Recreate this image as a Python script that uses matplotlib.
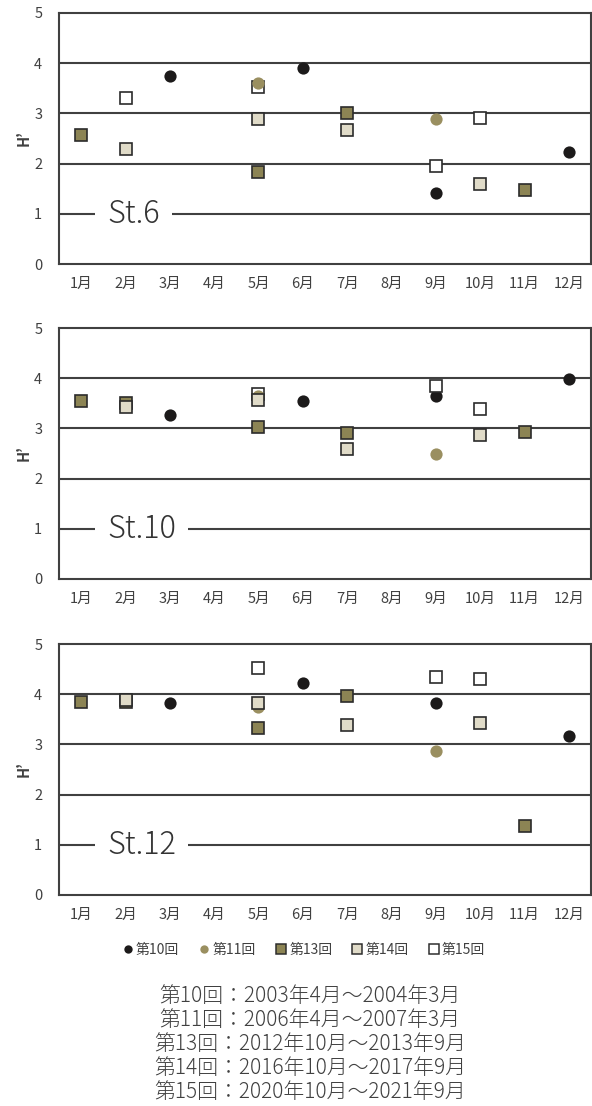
import numpy as np
import matplotlib
matplotlib.use("Agg")
import matplotlib.pyplot as plt
from matplotlib.lines import Line2D

plt.rcParams['font.family'] = ['Noto Sans CJK JP', 'DejaVu Sans']

# months on the x axis
months = ["1月", "2月", "3月", "4月", "5月", "6月", "7月", "8月", "9月", "10月", "11月", "12月"]
stations = ["St.6", "St.10", "St.12"]
series = ["第10回", "第11回", "第13回", "第14回", "第15回"]
periods = ["第10回：2003年4月～2004年3月",
           "第11回：2006年4月～2007年3月",
           "第13回：2012年10月～2013年9月",
           "第14回：2016年10月～2017年9月",
           "第15回：2020年10月～2021年9月"]

# values per station: {series: (months, H')}
st6 = {
    "第10回": ([3, 6, 9, 12], [3.75, 3.91, 1.41, 2.23]),
    "第11回": ([5, 9], [3.61, 2.88]),
    "第13回": ([1, 5, 7, 11], [2.56, 1.84, 3.01, 1.48]),
    "第14回": ([2, 5, 7, 10], [2.30, 2.88, 2.67, 1.59]),
    "第15回": ([2, 5, 9, 10], [3.31, 3.53, 1.96, 2.91]),
}
st10 = {
    "第10回": ([3, 6, 9, 12], [3.27, 3.55, 3.65, 3.98]),
    "第11回": ([5, 9], [3.65, 2.49]),
    "第13回": ([1, 2, 5, 7, 11], [3.55, 3.50, 3.03, 2.91, 2.93]),
    "第14回": ([2, 5, 7, 10], [3.43, 3.57, 2.58, 2.86]),
    "第15回": ([5, 9, 10], [3.69, 3.84, 3.39]),
}
st12 = {
    "第10回": ([3, 6, 9, 12], [3.82, 4.22, 3.82, 3.17]),
    "第11回": ([5, 9], [3.74, 2.86]),
    "第13回": ([1, 2, 5, 7, 11], [3.85, 3.85, 3.33, 3.96, 1.37]),
    "第14回": ([2, 5, 7, 10], [3.88, 3.83, 3.39, 3.42]),
    "第15回": ([5, 9, 10], [4.52, 4.34, 4.31]),
}
data = [st6, st10, st12]

edge = "#2b2b2b"
styles = {
    "第10回": dict(marker="o", color="#1c1a1a", mec="#1c1a1a", ms=8.8, mew=0, z=2),
    "第11回": dict(marker="o", color="#9a8f60", mec="#9a8f60", ms=8.8, mew=0, z=4),
    "第13回": dict(marker="s", color="#8c8454", mec=edge, ms=8.6, mew=1.2, z=5),
    "第14回": dict(marker="s", color="#e0dbc8", mec=edge, ms=8.6, mew=1.2, z=6),
    "第15回": dict(marker="s", color="#ffffff", mec=edge, ms=8.6, mew=1.2, z=3),
}

fig = plt.figure(figsize=(5.92, 11.06), dpi=100)
bottoms = [1 - 264 / 1106, 1 - 579 / 1106, 1 - 895 / 1106]
grey = "#404040"

for d, name, b in zip(data, stations, bottoms):
    ax = fig.add_axes([59 / 592, b, 532 / 592, 251 / 1106])
    for s in series:
        xs, ys = d[s]
        st = styles[s]
        ax.plot(xs, ys, ls="none", marker=st["marker"], mfc=st["color"], mec=st["mec"],
                ms=st["ms"], mew=st["mew"], zorder=st["z"])
    ax.set_xlim(0.5, 12.5)
    ax.set_ylim(0, 5)
    ax.set_xticks(range(1, 13))
    ax.set_xticklabels(months)
    ax.set_yticks(range(0, 6))
    ax.tick_params(length=0, labelsize=10.5, colors=grey)
    ax.tick_params(axis="x", pad=9)
    ax.tick_params(axis="y", pad=12)
    for sp in ax.spines.values():
        sp.set_color(grey)
        sp.set_linewidth(1.5)
    for yv in [1, 2, 3, 4]:
        ax.axhline(yv, color=grey, lw=1.5, zorder=1)
    ax.set_ylabel("H’", fontsize=10.5, color=grey, labelpad=2, fontweight="bold")
    ax.text(1.58, 1, name, fontsize=22, color="#333333", ha="left", va="center",
            fontweight="light", zorder=7,
            bbox=dict(boxstyle="square,pad=0.4", fc="white", ec="none"))

handles = [Line2D([], [], ls="none", marker=styles[s]["marker"], mfc=styles[s]["color"],
                  mec=styles[s]["mec"], ms=6 if styles[s]["marker"] == "o" else 7,
                  mew=styles[s]["mew"] * 0.9) for s in series]
fig.legend(handles, series, loc="center", bbox_to_anchor=(303 / 592, 1 - 950 / 1106),
           ncol=5, frameon=False, fontsize=10, handletextpad=0.1, columnspacing=1.3,
           handlelength=1.0, labelcolor=grey)

for i, line in enumerate(periods):
    fig.text(310 / 592, 1 - (996 + 24 * i) / 1106, line, ha="center", va="center",
             fontsize=15, color=grey, fontweight="light")

fig.savefig("out.png", dpi=100)
